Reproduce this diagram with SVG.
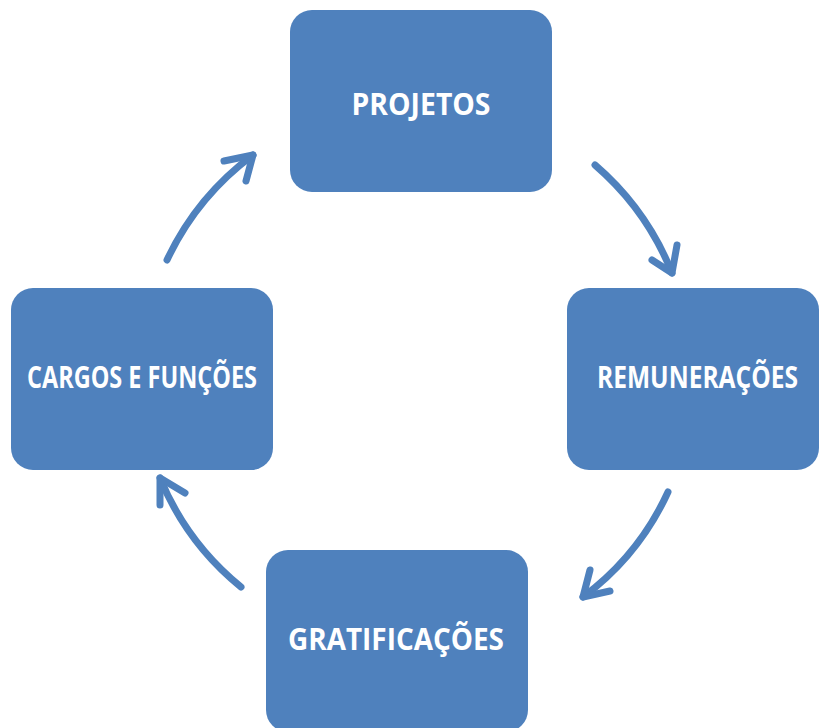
<svg xmlns="http://www.w3.org/2000/svg" width="819" height="728" viewBox="0 0 819 728">
<style>
.box{fill:#4F81BD;}
.lbl{fill:#FFFFFF;font-family:"Open Sans","Noto Sans","Liberation Sans",sans-serif;font-weight:bold;font-size:30px;text-anchor:middle;}
.arc{fill:none;stroke:#4F81BD;stroke-width:7;stroke-linecap:round;stroke-linejoin:round;}
</style>
<rect width="819" height="728" fill="#FFFFFF"/>
<g id="connectors">
<path class="arc" d="M167,260 A278,278 0 0 1 253,155"/>
<polyline class="arc" points="224,161 253,155 246,181"/>
<path class="arc" d="M595,165 A278,278 0 0 1 672,273"/>
<polyline class="arc" points="652,260 672,273 677,245"/>
<path class="arc" d="M668,492 A272,272 0 0 1 583,597"/>
<polyline class="arc" points="590,570 583,597 610,591"/>
<path class="arc" d="M241,587 A276,276 0 0 1 160,478"/>
<polyline class="arc" points="160,505 160,478 185,493"/>
</g>
<g id="projetos">
<rect class="box" x="290" y="10" width="262" height="182" rx="22" ry="22"/>
<text class="lbl" x="421" y="115" textLength="139" lengthAdjust="spacingAndGlyphs">PROJETOS</text>
</g>
<g id="remuneracoes">
<rect class="box" x="567" y="288" width="252" height="182" rx="22" ry="22"/>
<text class="lbl" x="697.5" y="388" textLength="201" lengthAdjust="spacingAndGlyphs">REMUNERAÇÕES</text>
</g>
<g id="cargos">
<rect class="box" x="11" y="288" width="262" height="182" rx="22" ry="22"/>
<text class="lbl" x="142" y="388" textLength="230" lengthAdjust="spacingAndGlyphs">CARGOS E FUNÇÕES</text>
</g>
<g id="gratificacoes">
<rect class="box" x="266" y="550" width="262" height="182" rx="22" ry="22"/>
<text class="lbl" x="396" y="650" textLength="216" lengthAdjust="spacingAndGlyphs">GRATIFICAÇÕES</text>
</g>
</svg>
